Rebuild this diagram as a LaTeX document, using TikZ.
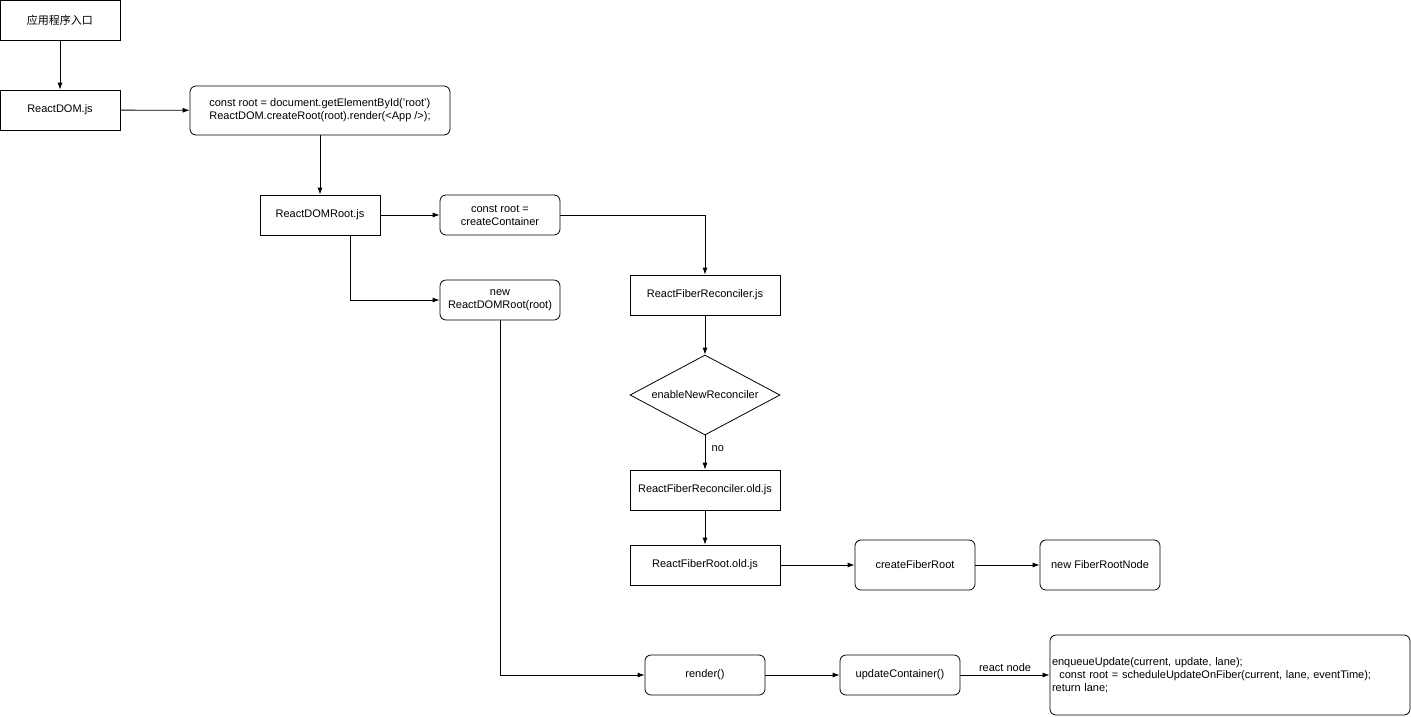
\documentclass[tikz,border=0pt]{standalone}
\usepackage{fontspec}
\setmainfont{Liberation Sans}
\newfontfamily\cjk{Noto Sans CJK SC}
\usetikzlibrary{shapes.geometric,arrows.meta}
\begin{document}
\begin{tikzpicture}[x=1pt,y=-1pt,font=\fontsize{11}{13}\selectfont,
  sq/.style={draw,line width=0.8pt,minimum width=120pt,minimum height=40pt,align=center,inner sep=1pt},
  rd/.style={sq,rounded corners=6pt},
  ar/.style={-{Latex[length=7pt,width=5pt]},line width=0.8pt}]
\useasboundingbox (0,0) rectangle (1411,716);
\node[sq] (entry) at (60,20) {\cjk 应用程序入口};
\node[sq] (dom) at (60,110) {ReactDOM.js};
\node[rd,minimum width=260pt,minimum height=49pt,align=left] (code) at (320,110.5) {const root = document.getElementById('root')\\ReactDOM.createRoot(root).render(<App />);};
\node[sq] (domroot) at (320,215) {ReactDOMRoot.js};
\node[rd] (cc) at (500,215) {const root =\\createContainer};
\node[rd] (newroot) at (500,300) {new\\ReactDOMRoot(root)};
\node[sq,minimum width=150pt] (rec) at (705,295) {ReactFiberReconciler.js};
\node[draw,line width=0.8pt,diamond,aspect=1.875,minimum width=150pt,minimum height=80pt,inner sep=0pt] (dia) at (705,395) {enableNewReconciler};
\node[sq,minimum width=150pt] (old) at (705,490) {ReactFiberReconciler.old.js};
\node[sq,minimum width=150pt] (froot) at (705,565) {ReactFiberRoot.old.js};
\node[rd,minimum height=50pt] (cfr) at (915,565) {createFiberRoot};
\node[rd,minimum height=50pt] (frn) at (1100,565) {new FiberRootNode};
\node[rd] (render) at (705,675) {render()};
\node[rd] (uc) at (900,675) {updateContainer()};
\node[rd,minimum width=360pt,minimum height=80pt,align=left,text width=356pt] (enq) at (1230,675) {enqueueUpdate(current, update, lane);\\\ \ const root = scheduleUpdateOnFiber(current, lane, eventTime);\\return lane;\\[12pt]};
\draw[ar] (entry) -- (dom);
\draw[ar] (dom) -- (code);
\draw[ar] (code) -- (domroot);
\draw[ar] (domroot) -- (cc);
\draw[ar] (cc.east) -| (rec.north);
\draw[ar] (domroot.south -| 350,0) |- (newroot.west);
\draw[ar] (newroot.south) |- (render.west);
\draw[ar] (rec) -- (dia);
\draw[ar] (dia) -- node[right,pos=0.4,xshift=3pt] {no} (old);
\draw[ar] (old) -- (froot);
\draw[ar] (froot) -- (cfr);
\draw[ar] (cfr) -- (frn);
\draw[ar] (render) -- (uc);
\draw[ar] (uc) -- node[above] {react node} (uc.east -| enq.west);
\end{tikzpicture}
\end{document}
